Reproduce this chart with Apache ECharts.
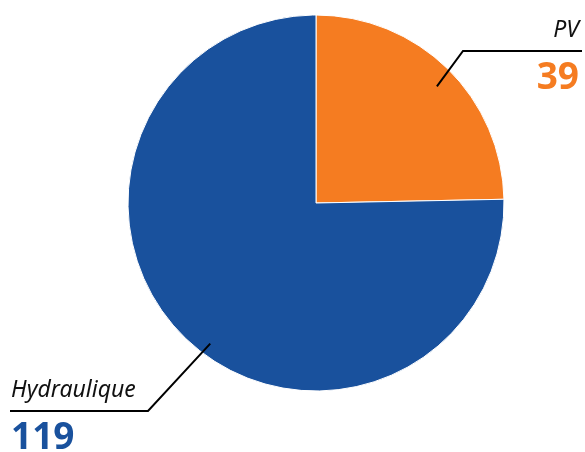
<!DOCTYPE html>
<html>
<head>
<meta charset="utf-8">
<script src="https://cdn.jsdelivr.net/npm/echarts@6/dist/echarts.min.js"></script>
<style>
  html, body { margin: 0; padding: 0; background: #fff; }
  #chart { width: 585px; height: 452px; }
</style>
</head>
<body>
<div id="chart"></div>
<script>
var categories = ['PV', 'Hydraulique'];
var values = [39, 119];
var colors = ['#F57C21', '#19519D'];

// leader line / label layout (per label)
var lineY = [51, 411];
var elbowX = [463, 148];
var lineEndX = [582, 10];
var textX = [579, 11];
var inset = [20, 12];
var angleShift = [-1.6, 7.5];

var CX = 316, CY = 203, R = 188;

var myChart = echarts.init(document.getElementById('chart'));

function labelData(i) {
  var al = i === 0 ? 'right' : 'left';
  return {
    name: categories[i],
    value: values[i],
    label: {
      rich: {
        n: { fontFamily: 'Noto Sans', fontStyle: 'italic', fontSize: 23, color: '#111', lineHeight: 41, align: al },
        v: { fontFamily: 'Noto Sans', fontWeight: 'bold', fontSize: 37, color: colors[i], lineHeight: 54, align: al }
      }
    }
  };
}

var option = {
  animation: false,
  series: [
    {
      // slices
      type: 'pie',
      z: 2,
      center: [CX, CY],
      radius: [0, R],
      startAngle: 90,
      clockwise: true,
      silent: true,
      itemStyle: { borderColor: '#fff', borderWidth: 1 },
      label: { show: false },
      labelLine: { show: false },
      data: categories.map(function (name, i) {
        return { name: name, value: values[i], itemStyle: { color: colors[i] } };
      })
    },
    {
      // same data, transparent, only to draw labels and leader lines above the slices
      type: 'pie',
      z: 3,
      center: [CX, CY],
      radius: [0, R],
      startAngle: 90,
      clockwise: true,
      silent: true,
      avoidLabelOverlap: false,
      itemStyle: { color: 'rgba(0,0,0,0)', borderWidth: 0 },
      label: {
        show: true,
        position: 'outside',
        formatter: '{n|{b}}\n{v|{c}}'
      },
      labelLine: {
        show: true,
        length: 20,
        length2: 20,
        lineStyle: { color: '#000', width: 2 }
      },
      labelLayout: function (params) {
        var i = params.dataIndex;
        var p0 = params.labelLinePoints[0];
        var a = Math.atan2(-(p0[1] - CY), p0[0] - CX) + angleShift[i] * Math.PI / 180;
        var r = R - inset[i];
        var start = [CX + r * Math.cos(a), CY - r * Math.sin(a)];
        return {
          x: textX[i],
          y: lineY[i] - 41,
          align: i === 0 ? 'right' : 'left',
          verticalAlign: 'top',
          labelLinePoints: [start, [elbowX[i], lineY[i]], [lineEndX[i], lineY[i]]]
        };
      },
      data: categories.map(function (name, i) { return labelData(i); })
    }
  ]
};

myChart.setOption(option);
window.onresize = function () {
  myChart.resize();
};
</script>
</body>
</html>
